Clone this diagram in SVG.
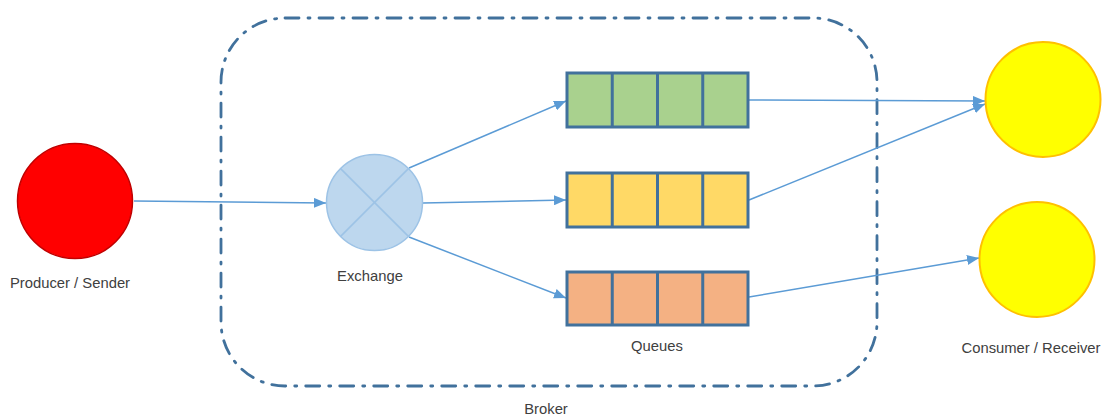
<svg xmlns="http://www.w3.org/2000/svg" width="1103" height="416" viewBox="0 0 1103 416">
  <defs>
    <marker id="arrow" viewBox="0 0 12 10" refX="12" refY="5" markerWidth="12" markerHeight="10" markerUnits="userSpaceOnUse" orient="auto">
      <path d="M0,0 L12,5 L0,10 Z" fill="#5B9BD5"/>
    </marker>
    <style>
      .label { font-family: "Liberation Sans", Arial, sans-serif; font-size: 14.8px; fill: #404040; text-anchor: middle; }
      .conn { stroke: #5B9BD5; stroke-width: 1.5; fill: none; marker-end: url(#arrow); }
      .cell { stroke: #41719C; stroke-width: 3; }
      .consumer { fill: #FFFF00; stroke: #FFC000; stroke-width: 2; }
    </style>
  </defs>
  <rect width="1103" height="416" fill="#FFFFFF"/>

  <!-- broker boundary -->
  <g id="broker">
    <rect x="221" y="18" width="656" height="368" rx="64" ry="64" fill="none" stroke="#41719C" stroke-width="2.8" stroke-dasharray="14 9 2 9" stroke-linecap="round"/>
    <text class="label" x="546" y="414">Broker</text>
  </g>

  <!-- connectors -->
  <g id="connectors">
    <line class="conn" x1="134" y1="201" x2="326" y2="203"/>
    <line class="conn" x1="409" y1="168" x2="566" y2="101"/>
    <line class="conn" x1="423" y1="203" x2="566" y2="200"/>
    <line class="conn" x1="409" y1="237" x2="566" y2="298"/>
    <line class="conn" x1="749" y1="100" x2="985" y2="101"/>
    <line class="conn" x1="749" y1="200" x2="985" y2="104"/>
    <line class="conn" x1="749" y1="297" x2="979" y2="258"/>
  </g>

  <g id="producer">
    <circle cx="75" cy="201" r="57.5" fill="#FF0000" stroke="#C00000" stroke-width="1.5"/>
    <text class="label" x="70" y="288">Producer / Sender</text>
  </g>

  <g id="exchange">
    <circle cx="374.5" cy="202.5" r="48" fill="#BDD7EE" stroke="#9DC3E6" stroke-width="1.5"/>
    <line x1="340.6" y1="168.6" x2="408.4" y2="236.4" stroke="#9DC3E6" stroke-width="1.5"/>
    <line x1="408.4" y1="168.6" x2="340.6" y2="236.4" stroke="#9DC3E6" stroke-width="1.5"/>
    <text class="label" x="370" y="281">Exchange</text>
  </g>

  <g id="queue-green">
    <rect class="cell" x="567" y="73" width="181" height="54" fill="#A9D18E"/>
    <line class="cell" x1="612.25" y1="73" x2="612.25" y2="127"/>
    <line class="cell" x1="657.5" y1="73" x2="657.5" y2="127"/>
    <line class="cell" x1="702.75" y1="73" x2="702.75" y2="127"/>
  </g>

  <g id="queue-yellow">
    <rect class="cell" x="567" y="173" width="181" height="54" fill="#FFD966"/>
    <line class="cell" x1="612.25" y1="173" x2="612.25" y2="227"/>
    <line class="cell" x1="657.5" y1="173" x2="657.5" y2="227"/>
    <line class="cell" x1="702.75" y1="173" x2="702.75" y2="227"/>
  </g>

  <g id="queue-orange">
    <rect class="cell" x="567" y="272" width="181" height="53" fill="#F4B183"/>
    <line class="cell" x1="612.25" y1="272" x2="612.25" y2="325"/>
    <line class="cell" x1="657.5" y1="272" x2="657.5" y2="325"/>
    <line class="cell" x1="702.75" y1="272" x2="702.75" y2="325"/>
    <text class="label" x="657" y="351">Queues</text>
  </g>

  <g id="consumer-1">
    <circle class="consumer" cx="1043" cy="99.5" r="57.5"/>
  </g>

  <g id="consumer-2">
    <circle class="consumer" cx="1037" cy="259.5" r="57.5"/>
    <text class="label" x="1031" y="353">Consumer / Receiver</text>
  </g>
</svg>
